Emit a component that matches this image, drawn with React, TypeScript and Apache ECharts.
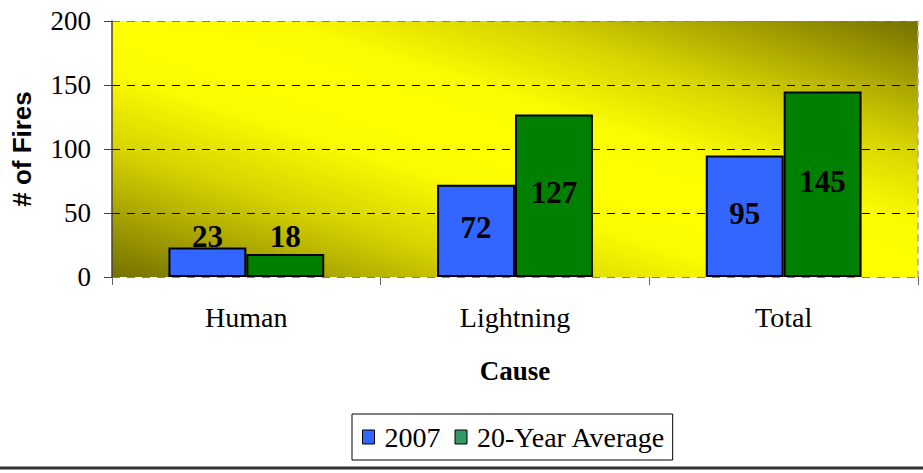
import React, { useEffect, useRef } from "react";
import * as echarts from "echarts";

const categories = ["Human", "Lightning", "Total"];
const values2007 = [23, 72, 95];
const valuesAverage = [18, 127, 145];
const seriesNames = ["2007", "20-Year Average"];
const yTicks = { min: 0, max: 200, interval: 50 };

const SERIF = "'Liberation Serif', 'Times New Roman', serif";
const SANS = "'Liberation Sans', Arial, sans-serif";

function labelFor(v: number, smallLimit: number) {
  if (v < smallLimit) {
    return { value: v, label: { position: "insideBottom", distance: 25 } };
  }
  return { value: v, label: { position: "inside", offset: [0, -3] } };
}

export default function App() {
  const ref = useRef<HTMLDivElement>(null);
  useEffect(() => {
    if (!ref.current) return;
    const chart = echarts.init(ref.current, null, { renderer: "svg" });
    const dark = "#747100";
    const bg = new echarts.graphic.LinearGradient(
      589,
      -83.5,
      441,
      381.5,
      [
        { offset: 0, color: dark },
        { offset: 0.125, color: "#a6a200" },
        { offset: 0.25, color: "#d6d200" },
        { offset: 0.4, color: "#fbfb00" },
        { offset: 0.5, color: "#ffff00" },
        { offset: 0.6, color: "#fbfb00" },
        { offset: 0.75, color: "#d6d200" },
        { offset: 0.875, color: "#a6a200" },
        { offset: 1, color: dark },
      ],
      true
    );
    const labelStyle = {
      show: true,
      color: "#000",
      fontFamily: SERIF,
      fontWeight: "bold",
      fontSize: 31,
    };
    chart.setOption({
      animation: false,
      backgroundColor: "#fff",
      grid: {
        left: 112,
        right: 5,
        top: 21,
        bottom: 196,
        show: true,
        backgroundColor: bg,
        borderWidth: 0,
      },
      legend: {
        left: 352,
        top: 414,
        padding: [8, 7, 8, 10],
        itemGap: 14,
        itemWidth: 12,
        itemHeight: 14,
        borderColor: "#000",
        borderWidth: 1,
        icon: "rect",
        textStyle: {
          fontFamily: SERIF,
          fontSize: 28,
          color: "#000",
          lineHeight: 30,
          padding: [0, 0, 0, 5],
        },
        data: [
          { name: seriesNames[0], itemStyle: { color: "#3366FF", borderColor: "#000", borderWidth: 1 } },
          { name: seriesNames[1], itemStyle: { color: "#339966", borderColor: "#000", borderWidth: 1 } },
        ],
      },
      xAxis: [
        {
          type: "category",
          data: categories,
          name: "Cause",
          nameLocation: "middle",
          nameGap: 80,
          nameTextStyle: { fontFamily: SERIF, fontWeight: "bold", fontSize: 27, color: "#000" },
          axisLine: { show: false },
          axisTick: { show: true, length: 8, lineStyle: { color: "#666" } },
          axisLabel: { fontFamily: SERIF, fontSize: 28, color: "#000", margin: 26 },
        },
      ],
      yAxis: [
        {
          type: "value",
          min: yTicks.min,
          max: yTicks.max,
          interval: yTicks.interval,
          name: "# of Fires",
          nameLocation: "middle",
          nameGap: 77,
          nameTextStyle: { fontFamily: SANS, fontWeight: "bold", fontSize: 26, color: "#000" },
          axisLine: { show: true, lineStyle: { color: "#4a4040", width: 1.5 } },
          axisTick: { show: true, length: 8, lineStyle: { color: "#4a4040" } },
          axisLabel: { fontFamily: SERIF, fontSize: 27, color: "#000", margin: 21 },
          splitLine: {
            show: true,
            lineStyle: {
              type: [8, 7],
              width: 1,
              color: ["#a87070", "#000", "#000", "#000", "#a87070"],
            },
          },
        },
        {
          type: "value",
          position: "right",
          min: yTicks.min,
          max: yTicks.max,
          axisLine: { show: true, lineStyle: { color: "#c09a9a", type: [6, 6], width: 1.5 } },
          axisTick: { show: false },
          axisLabel: { show: false },
          splitLine: { show: false },
        },
      ],
      series: [
        {
          name: seriesNames[0],
          type: "bar",
          data: values2007.map((v) => labelFor(v, 30)),
          barWidth: "29%",
          barGap: "0%",
          itemStyle: { color: "#3366FF", borderColor: "#000", borderWidth: 2 },
          label: labelStyle,
        },
        {
          name: seriesNames[1],
          type: "bar",
          data: valuesAverage.map((v) => labelFor(v, 30)),
          barWidth: "29%",
          barGap: "0%",
          itemStyle: { color: "#008000", borderColor: "#000", borderWidth: 2 },
          label: labelStyle,
        },
      ],
      graphic: [
        {
          type: "line",
          shape: { x1: 0, y1: 468, x2: 923, y2: 468 },
          style: { stroke: "#333", lineWidth: 3 },
        },
      ],
    });
    return () => chart.dispose();
  }, []);
  return (
    <div
      ref={ref}
      style={{ position: "absolute", left: 0, top: 0, width: 923, height: 473 }}
    />
  );
}
